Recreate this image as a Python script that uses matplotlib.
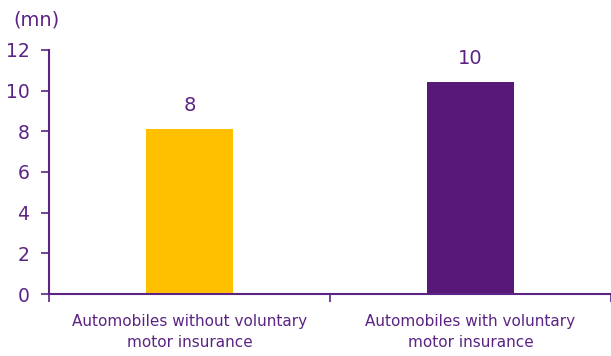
import matplotlib.pyplot as plt
import numpy as np

categories = ["Automobiles without voluntary\nmotor insurance",
              "Automobiles with voluntary\nmotor insurance"]
values = [8.1, 10.4]
value_labels = ["8", "10"]
bar_colors = ["#FFC000", "#581878"]

PURPLE = "#5B2484"
plt.rcParams["font.family"] = "DejaVu Sans"

fig = plt.figure(figsize=(6.11, 3.56), dpi=100)
ax = fig.add_axes([0.080, 0.174, 0.920, 0.686])

x = np.arange(len(categories))
bars = ax.bar(x, values, width=0.31, color=bar_colors, zorder=2)
for bar, v, lab in zip(bars, values, value_labels):
    ax.text(bar.get_x() + bar.get_width() / 2, v + 0.7, lab,
            ha="center", va="bottom", fontsize=14, color=PURPLE)

ax.set_xlim(-0.5, 1.5)
ax.set_ylim(0, 12)
ax.set_yticks(range(0, 13, 2))
ax.set_xticks(x)
ax.set_xticklabels(categories, fontsize=11, color=PURPLE, linespacing=1.55)
ax.set_xticks([-0.5, 0.5, 1.5], minor=True)
ax.tick_params(axis="x", which="major", length=0, pad=14)
ax.tick_params(axis="x", which="minor", length=6, width=1.2, color=PURPLE)
ax.tick_params(axis="y", length=6, width=1.2, color=PURPLE, labelcolor=PURPLE,
               labelsize=13.5, pad=8)

for side in ["top", "right"]:
    ax.spines[side].set_visible(False)
for side in ["left", "bottom"]:
    ax.spines[side].set_color(PURPLE)
    ax.spines[side].set_linewidth(1.5)

fig.text(0.022, 0.945, "(mn)", fontsize=14, color=PURPLE, ha="left", va="center")

fig.savefig("out.png", dpi=100)
